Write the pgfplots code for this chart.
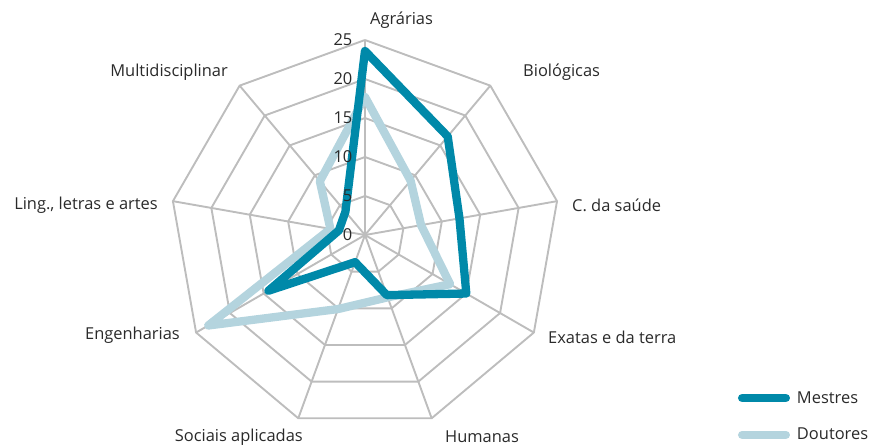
\documentclass[border=0pt]{standalone}
\usepackage{fontspec}
\setmainfont{Open Sans}
\usepackage{pgfplots}
\pgfplotsset{compat=1.18}
\definecolor{mestres}{HTML}{0089A9}
\definecolor{doutores}{HTML}{B4D4DE}
\definecolor{gridc}{HTML}{BDBDBD}
\definecolor{txt}{HTML}{2A2A2A}

\begin{document}
\begin{tikzpicture}[font=\fontsize{16.5}{19}\selectfont, text=txt]
\begin{axis}[
    x=7.8bp, y=7.8bp,
    xmin=-46.79, xmax=65.0, ymin=-27.05, ymax=30.13,
    axis line style={draw=none}, xtick=\empty, ytick=\empty,
    clip=false,
    grid line/.style={gridc, line width=1.9bp, forget plot},
    serie/.style={line width=8.3bp, line join=round, line cap=round},
    reverse legend,
    legend style={at={(axis cs:47.82,-20.05)}, anchor=north west, draw=none, fill=none,
        inner sep=0pt, outer sep=0pt, row sep=23.5bp, font=\fontsize{16.5}{19}\selectfont,
        nodes={inner sep=0pt, outer sep=0pt},
        /tikz/every odd column/.append style={column sep=7bp}},
    legend cell align=left,
    legend image code/.code={\draw[#1, line cap=round] (4.15bp,0bp) -- (47.85bp,0bp);},
]
% spokes
\pgfplotsinvokeforeach{90,50,10,-30,-70,-110,-150,170,130}{
  \addplot[grid line, data cs=polar] coordinates {(#1,0) (#1,25)};
}
% rings
\pgfplotsinvokeforeach{5,10,15,20,25}{
  \addplot[grid line, data cs=polar] coordinates {(90,#1) (50,#1) (10,#1) (-30,#1) (-70,#1) (-110,#1) (-150,#1) (170,#1) (130,#1) (90,#1)};
}
% Doutores
\addplot[serie, doutores, data cs=polar] coordinates {(90,17.7) (50,9.1) (10,7.3) (-30,12.6) (-70,8.5) (-110,10.1) (-150,23.2) (170,4.5) (130,9.0) (90,17.7)};
\addlegendentry{Doutores}
% Mestres
\addplot[serie, mestres, data cs=polar] coordinates {(90,23.6) (50,16.5) (10,12.3) (-30,15.0) (-70,8.2) (-110,3.7) (-150,14.3) (170,3.4) (130,3.9) (90,23.6)};
\addlegendentry{Mestres}

% scale labels
\pgfplotsinvokeforeach{0,5,10,15,20,25}{
  \node[anchor=east, inner sep=0pt] at (axis cs:-1.6,#1) {#1};
}
% category labels
\node[anchor=west, inner sep=0pt] at (axis cs:0.64,27.56) {Agrárias};
\node[anchor=west, inner sep=0pt] at (axis cs:20.26,20.9) {Biológicas};
\node[anchor=west, inner sep=0pt] at (axis cs:26.54,3.85) {C. da saúde};
\node[anchor=west, inner sep=0pt] at (axis cs:23.46,-13.08) {Exatas e da terra};
\node[anchor=west, inner sep=0pt] at (axis cs:10.26,-25.9) {Humanas};
\node[anchor=east, inner sep=0pt] at (axis cs:-7.95,-25.9) {Sociais aplicadas};
\node[anchor=east, inner sep=0pt] at (axis cs:-23.72,-12.82) {Engenharias};
\node[anchor=east, inner sep=0pt] at (axis cs:-26.54,3.85) {Ling., letras e artes};
\node[anchor=east, inner sep=0pt] at (axis cs:-17.56,20.9) {Multidisciplinar};
\end{axis}
\pgfresetboundingbox
\path[use as bounding box] (current axis.south west) rectangle (current axis.north east);
\end{tikzpicture}
\end{document}
